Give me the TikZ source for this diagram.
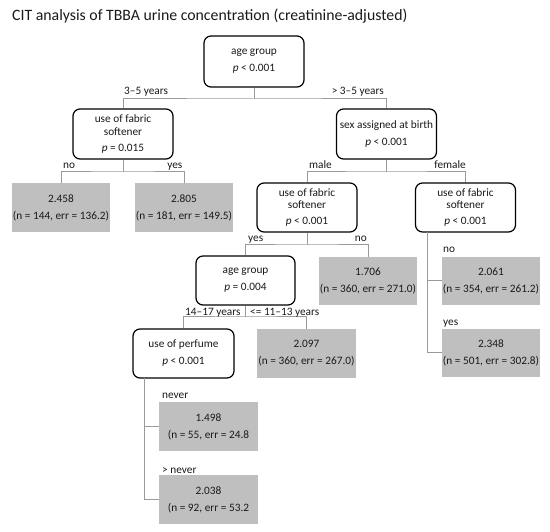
\documentclass[tikz,border=0pt]{standalone}
\usepackage{fontspec}
\setmainfont{Carlito}
\definecolor{leafgrey}{HTML}{BFBFBF}
\definecolor{conngrey}{HTML}{9A9A9A}
\definecolor{txt}{HTML}{1A1A1A}
\newcommand\bodyfont{\fontsize{11.3}{12.5}\selectfont}
\newcommand\titlefont{\fontsize{15.8}{18}\selectfont}
\tikzset{
  splitbox/.style={draw=black, line width=1.2pt, rounded corners=7pt, fill=white,
    minimum width=100pt, minimum height=50pt, inner sep=0pt, align=center,
    font=\bodyfont, text=txt},
  leafbox/.style={fill=leafgrey, minimum width=98pt, minimum height=49pt,
    inner sep=0pt, align=center, font=\bodyfont, text=txt},
  conn/.style={draw=conngrey, line width=1pt},
  lab/.style={inner sep=0pt, font=\bodyfont, text=txt},
}
\begin{document}
\begin{tikzpicture}[x=1pt,y=-1pt]
\useasboundingbox (0,0) rectangle (550,532);
\fill[white] (0,0) rectangle (550,532);

\node[inner sep=0pt, anchor=base west, font=\titlefont, text=txt] (title) at (12,21)
  {CIT analysis of TBBA urine concentration (creatinine-adjusted)};

% split nodes
\node[splitbox, minimum height=51pt] (root) at (254,61.5) {age group\\[4.5pt]\textit{p} < 0.001};
\node[splitbox] (fab1) at (123,134) {use of fabric\\softener\\[3.5pt]\textit{p} = 0.015};
\node[splitbox] (sex) at (386.5,134) {sex assigned at birth\\[4.5pt]\textit{p} < 0.001};
\node[splitbox, minimum height=49pt] (fab2) at (307,207.5) {use of fabric\\softener\\[3.5pt]\textit{p} < 0.001};
\node[splitbox, minimum height=49pt] (fab3) at (465.5,207.5) {use of fabric\\softener\\[3.5pt]\textit{p} < 0.001};
\node[splitbox, minimum width=99pt, minimum height=49pt] (age2) at (245.5,280.5) {age group\\[4.5pt]\textit{p} = 0.004};
\node[splitbox, minimum width=101pt, minimum height=49pt] (perf) at (183.5,353.5) {use of perfume\\[4.5pt]\textit{p} < 0.001};

% leaves
\node[leafbox] (l1) at (61,207.5) {2.458\\[4.5pt](n = 144, err = 136.2)};
\node[leafbox] (l2) at (184,207.5) {2.805\\[4.5pt](n = 181, err = 149.5)};
\node[leafbox, minimum height=48pt] (l3) at (368,281) {1.706\\[4.5pt](n = 360, err = 271.0)};
\node[leafbox, minimum height=48pt] (l4) at (491,281) {2.061\\[4.5pt](n = 354, err = 261.2)};
\node[leafbox, minimum width=99pt] (l5) at (306.5,353.5) {2.097\\[4.5pt](n = 360, err = 267.0)};
\node[leafbox, minimum height=48pt] (l6) at (491,353) {2.348\\[4.5pt](n = 501, err = 302.8)};
\node[leafbox, minimum width=99pt] (l7) at (208.5,426.5) {1.498\\[4.5pt](n = 55, err = 24.8};
\node[leafbox, minimum width=99pt] (l8) at (208.5,499.5) {2.038\\[4.5pt](n = 92, err = 53.2};

% junction coordinates
\coordinate (j1) at (254,99);
\coordinate (j2) at (123,172);
\coordinate (j3) at (386.5,172);
\coordinate (j4) at (307,245);
\coordinate (j5) at (245.5,317);
\coordinate (f0) at (427,232);
\coordinate (p0) at (144,378);

% connectors
\draw[conn] (root.south) -- (j1);
\draw[conn] (fab1.north) |- (j1) -| (sex.north);
\draw[conn] (fab1.south) -- (j2);
\draw[conn] (l1.north) |- (j2) -| (l2.north);
\draw[conn] (sex.south) -- (j3);
\draw[conn] (fab2.north) |- (j3) -| (fab3.north);
\draw[conn] (fab2.south) -- (j4);
\draw[conn] (age2.north) |- (j4) -| (l3.north);
\draw[conn] (age2.south) -- (j5);
\draw[conn] (perf.north) |- (j5) -| (l5.north);
\draw[conn] (f0) |- (l4.west);
\draw[conn] (f0) |- (l6.west);
\draw[conn] (p0) |- (l7.west);
\draw[conn] (p0) |- (l8.west);

% edge labels
\node[lab, anchor=base west] (e1) at (124,94.5) {3–5 years};
\node[lab, anchor=base east] (e2) at (384,94.5) {> 3–5 years};
\node[lab, anchor=base west] (e3) at (63,168.5) {no};
\node[lab, anchor=base east] (e4) at (182.5,168.5) {yes};
\node[lab, anchor=base west] (e5) at (309,168.5) {male};
\node[lab, anchor=base east] (e6) at (466,168.5) {female};
\node[lab, anchor=base west] (e7) at (248,242) {yes};
\node[lab, anchor=base east] (e8) at (367,242) {no};
\node[lab, anchor=base west] (e9) at (185,315.5) {14–17 years};
\node[lab, anchor=base west] (e10) at (250,315.5) {<= 11–13 years};
\node[lab, anchor=base west] (e11) at (443,253) {no};
\node[lab, anchor=base west] (e12) at (443,326) {yes};
\node[lab, anchor=base west] (e13) at (162,399) {never};
\node[lab, anchor=base west] (e14) at (162,473) {> never};
\end{tikzpicture}
\end{document}
